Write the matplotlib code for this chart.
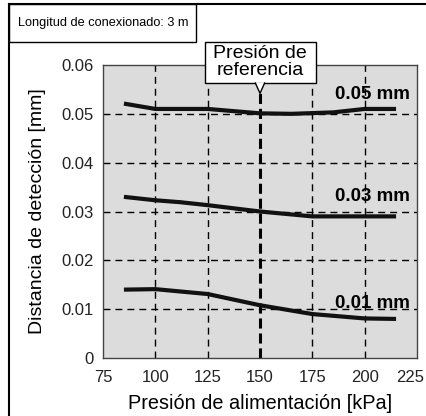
import numpy as np
import matplotlib.pyplot as plt
import matplotlib.transforms as mtransforms
from matplotlib.lines import Line2D
from matplotlib.patches import Rectangle, Polygon

plt.rcParams["font.family"] = ["Liberation Sans", "DejaVu Sans"]

# supply pressure [kPa] and detection distance [mm]
p_05 = [85, 100, 125, 150, 165, 185, 200, 215]
d_05 = [0.0521, 0.0510, 0.0510, 0.0501, 0.0500, 0.0503, 0.0510, 0.0510]
p_03 = [85, 100, 112, 125, 150, 175, 200, 215]
d_03 = [0.0330, 0.0323, 0.0319, 0.0313, 0.0300, 0.0290, 0.0290, 0.0290]
p_01 = [85, 100, 125, 150, 175, 200, 215]
d_01 = [0.0140, 0.0141, 0.0131, 0.0108, 0.0090, 0.0081, 0.0080]
labels = ["0.05 mm", "0.03 mm", "0.01 mm"]
label_y = [0.0540, 0.0331, 0.0111]
ref_pressure = 150

fig = plt.figure(figsize=(4.27, 4.16), dpi=100)
ax = fig.add_axes([103 / 427, 1 - 358 / 416, 314 / 427, 293 / 416])
ax.set_facecolor("#dcdcdc")

for x in [100, 125, 175, 200]:
    ax.axvline(x, color="black", lw=1.0, ls=(0, (5, 3.6)), zorder=1)
for y in [0.01, 0.02, 0.03, 0.04, 0.05]:
    ax.axhline(y, color="black", lw=1.0, ls=(0, (5, 3.6)), zorder=1)
ax.axvline(ref_pressure, color="black", lw=2.2, ls=(0, (3.3, 1.6)), zorder=1)

for p, d in [(p_05, d_05), (p_03, d_03), (p_01, d_01)]:
    ax.plot(p, d, color="#111111", lw=3.0, solid_capstyle="butt", zorder=3)

for lab, y in zip(labels, label_y):
    ax.text(221.5, y, lab, ha="right", va="center", fontsize=13.5,
            fontweight="bold", zorder=4)

ax.set_xlim(75, 225)
ax.set_ylim(0, 0.06)
ax.set_xticks([75, 100, 125, 150, 175, 200, 225])
ax.set_yticks([0, 0.01, 0.02, 0.03, 0.04, 0.05, 0.06])
ax.set_yticklabels(["0", "0.01", "0.02", "0.03", "0.04", "0.05", "0.06"])
ax.tick_params(length=0, labelsize=12, colors="#222222")
ax.tick_params(axis="x", pad=9)
ax.tick_params(axis="y", pad=7)
for s in ax.spines.values():
    s.set_color("#444444")
    s.set_linewidth(1.0)

# last x label sits a bit left so it stays inside the figure
last = ax.get_xticklabels()[-1]
last.set_transform(last.get_transform() +
                   mtransforms.ScaledTranslation(-7 / 100, 0, fig.dpi_scale_trans))

ax.set_xlabel("Presión de alimentación [kPa]", fontsize=14.3, labelpad=6)
ax.set_ylabel("Distancia de detección [mm]", fontsize=14, labelpad=11)

# callout for reference pressure
box = Rectangle((123.9, 0.0563), 52.7, 0.0084, fc="white", ec="black",
                lw=1.0, zorder=6, clip_on=False)
ax.add_patch(box)
ax.text(ref_pressure, 0.0606, "Presión de\nreferencia", ha="center",
        va="center", fontsize=14, linespacing=0.95, zorder=8, clip_on=False)
notch = Polygon([[147.8, 0.0564], [150, 0.0542], [152.2, 0.0564]],
                closed=True, fc="white", ec="none", zorder=7, clip_on=False)
ax.add_patch(notch)
ax.plot([147.8, 150, 152.2], [0.0563, 0.0542, 0.0563], color="black",
        lw=1.0, zorder=7, clip_on=False)

# outer frame and cable length box
fig.add_artist(Line2D([9 / 427, 1], [1 - 4 / 416, 1 - 4 / 416],
                      color="black", lw=1.5))
fig.add_artist(Line2D([9 / 427, 9 / 427], [0, 1 - 4 / 416],
                      color="black", lw=1.5))
fig.add_artist(Rectangle((9 / 427, 1 - 42 / 416), 187 / 427, 38 / 416,
                         fill=False, ec="black", lw=1.0))
fig.text(103 / 427, 1 - 23 / 416, "Longitud de conexionado: 3 m",
         ha="center", va="center", fontsize=9.2)

fig.savefig("out.png", dpi=100)
